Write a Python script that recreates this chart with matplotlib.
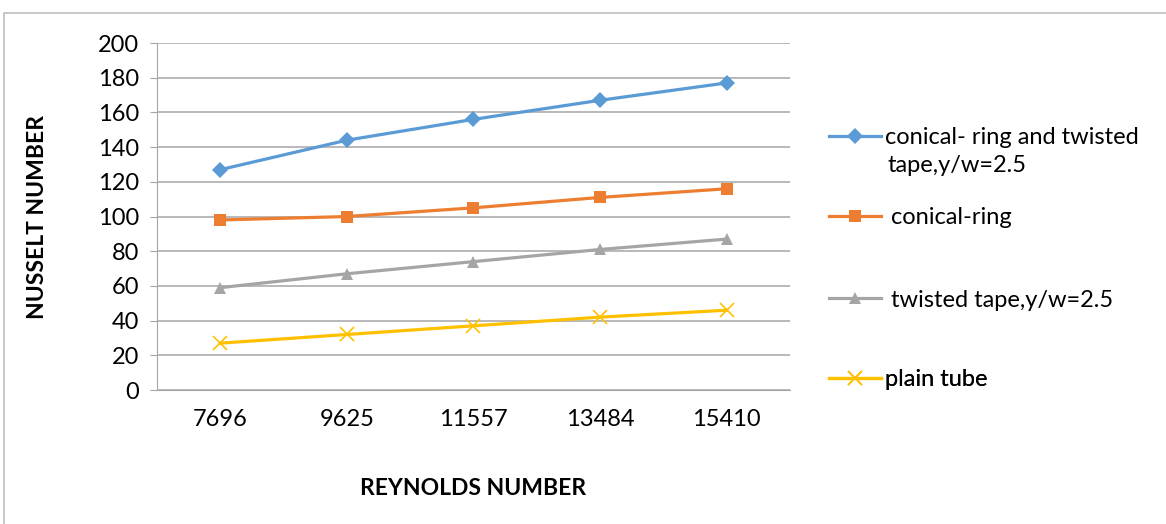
import matplotlib.pyplot as plt
from matplotlib.patches import Rectangle

# Data
reynolds = ["7696", "9625", "11557", "13484", "15410"]
cone_twist = [127, 144, 156, 167, 177]
cone_ring = [98, 100, 105, 111, 116]
twisted = [59, 67, 74, 81, 87]
plain = [27, 32, 37, 42, 46]
y_ticks = list(range(0, 201, 20))

plt.rcParams['font.family'] = ['Lato', 'DejaVu Sans']

fig = plt.figure(figsize=(11.66, 5.24), dpi=100)
ax = fig.add_axes([0.1346, 0.2557, 0.5429, 0.6622])

# Outer chart border (only top/left edges are visible in the crop)
fig.patches.append(Rectangle((0.0035, -0.2), 1.2, 1.175, transform=fig.transFigure,
                             fill=False, edgecolor="#BFBFBF", linewidth=1.2))

x = range(len(reynolds))
series = [
    (cone_twist, "#5B9BD5", "D", 8, "conical- ring and twisted"),
    (cone_ring, "#ED7D31", "s", 9, " conical-ring"),
    (twisted, "#A5A5A5", "^", 9, " twisted tape,y/w=2.5"),
    (plain, "#FFC000", "x", 10, "plain tube"),
]
lines = []
for vals, col, mk, ms, lab in series:
    ln, = ax.plot(x, vals, color=col, marker=mk, markersize=ms, linewidth=2.3,
                  markeredgewidth=1.2 if mk == "x" else 0, label=lab)
    lines.append(ln)

ax.set_xlim(-0.5, 4.5)
ax.set_ylim(0, 200)
ax.set_yticks(y_ticks)
ax.set_xticks(list(x))
ax.set_xticklabels(reynolds)
ax.grid(axis="y", color="#A6A6A6", linewidth=1.1)
ax.set_axisbelow(True)
for s in ["top", "right"]:
    ax.spines[s].set_visible(False)
ax.spines["left"].set_color("#A6A6A6")
ax.spines["bottom"].set_color("#A6A6A6")
ax.tick_params(axis="y", length=5, color="#A6A6A6", labelsize=17, pad=8)
ax.tick_params(axis="x", length=0, labelsize=17, pad=14)

ax.set_ylabel("NUSSELT NUMBER", fontsize=16.5, fontweight="bold", labelpad=36)
ax.set_xlabel("REYNOLDS NUMBER", fontsize=16.5, fontweight="bold", labelpad=34)

# Legend: one box per entry so the spacing can follow the reference
anchors = [(0.711, 0.738), (0.711, 0.584), (0.711, 0.427), (0.711, 0.275)]
for ln, pos in zip(lines, anchors):
    leg = ax.legend(handles=[ln], loc="center left", bbox_to_anchor=pos,
                    bbox_transform=fig.transFigure, frameon=False, fontsize=17,
                    handlelength=2.2, handletextpad=0.15, borderpad=0, borderaxespad=0)
    ax.add_artist(leg)
fig.text(0.7615, 0.685, "tape,y/w=2.5", fontsize=17, va="center", ha="left")

fig.savefig("out.png", dpi=100)
